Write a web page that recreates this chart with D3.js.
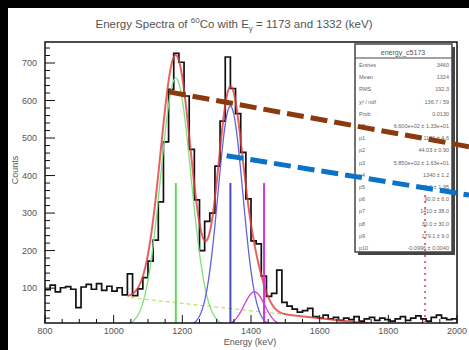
<!DOCTYPE html>
<html>
<head>
<script src="https://d3js.org/d3.v7.min.js"></script>
<style>
  body, html { margin: 0; background: #000; }
  svg { display: block; }
  text { font-family: 'Liberation Sans', Arial, sans-serif; }
</style>
</head>
<body>
<svg id="chart" width="469" height="350"></svg>
<script>
// histogram: 15 keV bins from 800 keV
var binStart = 800, binWidth = 15;
var counts = [96, 108, 90, 101, 104, 97, 48, 103, 110, 97, 112, 94, 105,
  92, 101, 82, 138, 80, 98, 128,
  172, 228, 330, 490, 630, 726, 702, 612, 470, 335,
  200, 278, 300, 425, 545, 716, 632, 565, 462, 338,
  226, 218, 132, 78, 86, 148, 62, 52, 44, 36,
  40, 46, 24, 20, 28, 18, 22, 14, 20, 16,
  24, 12, 18, 22, 14, 20, 16, 12, 18, 24,
  14, 20, 26, 18, 12, 22, 28, 20, 16, 18];
var xTicks = [800, 1000, 1200, 1400, 1600, 1800, 2000];
var yTicks = [100, 200, 300, 400, 500, 600, 700];

// fit components: amplitude, mean, sigma
var gaus1 = [660, 1181, 44];
var gaus2 = [585, 1340, 36];
var gaus3 = [90, 1410, 30];
var bgPol = [179, -0.0996];

var markers = [
  { e: 1181, top: 380, color: "#5fd85f" },
  { e: 1340, top: 380, color: "#4a4ac8" },
  { e: 1438, top: 380, color: "#d633d6" }
];
var redMarker = { e: 1907, top: 355 };

var brownDash = [[1161, 623], [2035, 477]];
var blueDash = [[1329, 453], [2035, 348]];

var statsTitle = "energy_c5173";
var statsRows = [
  ["Entries", "3460"], ["Mean", "1324"], ["RMS", "192.3"],
  ["\u03c7\u00b2 / ndf", "136.7 / 59"], ["Prob", "0.0130"],
  ["p0", "6.600e+02 \u00b1 1.33e+01"], ["p1", "1181 \u00b1 4.6"],
  ["p2", "44.03 \u00b1 0.90"], ["p3", "5.850e+02 \u00b1 1.63e+01"],
  ["p4", "1340 \u00b1 1.2"], ["p5", "36.0 \u00b1 1.95"],
  ["p6", "90.0 \u00b1 6.0"], ["p7", "1410 \u00b1 38.0"],
  ["p8", "30.0 \u00b1 30.0"], ["p9", "179.1 \u00b1 9.0"],
  ["p10", "-0.0996 \u00b1 0.0040"]
];

var svg = d3.select("#chart");
svg.append("rect").attr("x", 8).attr("y", 8).attr("width", 461).attr("height", 342).attr("fill", "#fff");

var L = 45, R = 457, T = 42, B = 323;
var x = d3.scaleLinear().domain([800, 2000]).range([L, R]);
var y = d3.scaleLinear().domain([7, 756]).range([B, T]);

svg.append("clipPath").attr("id", "clip")
  .append("rect").attr("x", L).attr("y", T).attr("width", R - L).attr("height", B - T);
var plot = svg.append("g").attr("clip-path", "url(#clip)");

function gaus(p, e) { return p[0] * Math.exp(-Math.pow(e - p[1], 2) / (2 * p[2] * p[2])); }
function bg(e) { return bgPol[0] + bgPol[1] * e; }
function total(e) { return gaus(gaus1, e) + gaus(gaus2, e) + gaus(gaus3, e) + bg(e); }

var curve = d3.line().x(d => x(d[0])).y(d => y(d[1]));
function sample(f, lo, hi) { return d3.range(lo, hi + 0.1, 2).map(e => [e, f(e)]); }

// histogram
var steps = counts.map((c, i) => [binStart + i * binWidth, c]);
steps.push([binStart + counts.length * binWidth, counts[counts.length - 1]]);
plot.append("path")
  .attr("d", d3.line().x(d => x(d[0])).y(d => y(d[1])).curve(d3.curveStepAfter)(steps))
  .attr("fill", "none").attr("stroke", "#111").attr("stroke-width", 1.7);

// background line
plot.append("path").attr("d", curve(sample(bg, 1050, 1500)))
  .attr("fill", "none").attr("stroke", "#b8e06a").attr("stroke-width", 1.2).attr("stroke-dasharray", "4,3");

// components
plot.append("path").attr("d", curve(sample(e => gaus(gaus1, e), 1030, 1340)))
  .attr("fill", "none").attr("stroke", "#7ee07e").attr("stroke-width", 1.3);
plot.append("path").attr("d", curve(sample(e => gaus(gaus2, e), 1200, 1490)))
  .attr("fill", "none").attr("stroke", "#6262e0").attr("stroke-width", 1.3);
plot.append("path").attr("d", curve(sample(e => gaus(gaus3, e), 1330, 1520)))
  .attr("fill", "none").attr("stroke", "#d63ad6").attr("stroke-width", 1.3);

// total fit
plot.append("path").attr("d", curve(sample(total, 1040, 1750)))
  .attr("fill", "none").attr("stroke", "#e03a3a").attr("stroke-width", 2).attr("stroke-opacity", 0.8);

// peak markers
plot.selectAll(".mk").data(markers).enter().append("line")
  .attr("x1", d => x(d.e)).attr("x2", d => x(d.e))
  .attr("y1", y(7)).attr("y2", d => y(d.top))
  .attr("stroke", d => d.color).attr("stroke-width", 2);

// frame
svg.append("rect").attr("x", L).attr("y", T).attr("width", R - L).attr("height", B - T)
  .attr("fill", "none").attr("stroke", "#111").attr("stroke-width", 1.5);

// axes (ticks inside)
var xAxis = svg.append("g");
xAxis.selectAll(".minor").data(d3.range(850, 2000, 50).filter(v => v % 200 !== 0)).enter()
  .append("line").attr("x1", d => x(d)).attr("x2", d => x(d)).attr("y1", B).attr("y2", B - 4)
  .attr("stroke", "#111");
xAxis.selectAll(".major").data(xTicks).enter()
  .append("line").attr("x1", d => x(d)).attr("x2", d => x(d)).attr("y1", B).attr("y2", B - 8)
  .attr("stroke", "#111");
xAxis.selectAll("text").data(xTicks).enter().append("text")
  .attr("x", d => x(d)).attr("y", B + 11).attr("text-anchor", "middle")
  .attr("font-size", 9).attr("fill", "#555").text(d => d);

var yAxis = svg.append("g");
yAxis.selectAll(".minor").data(d3.range(20, 756, 20).filter(v => v % 100 !== 0)).enter()
  .append("line").attr("x1", L).attr("x2", L + 5).attr("y1", d => y(d)).attr("y2", d => y(d))
  .attr("stroke", "#111");
yAxis.selectAll(".major").data(yTicks).enter()
  .append("line").attr("x1", L).attr("x2", L + 10).attr("y1", d => y(d)).attr("y2", d => y(d))
  .attr("stroke", "#111");
yAxis.selectAll("text").data(yTicks).enter().append("text")
  .attr("x", L - 8).attr("y", d => y(d) + 3).attr("text-anchor", "end")
  .attr("font-size", 9).attr("fill", "#555").text(d => d);

// titles
var title = svg.append("text").attr("x", 234).attr("y", 28).attr("text-anchor", "middle")
  .attr("font-size", 11.5).attr("fill", "#555");
title.append("tspan").text("Energy Spectra of ");
title.append("tspan").attr("font-size", 8).attr("dy", -5).text("60");
title.append("tspan").attr("dy", 5).text("Co with E");
title.append("tspan").attr("font-size", 8).attr("dy", 3).text("\u03b3");
title.append("tspan").attr("dy", -3).text(" = 1173 and 1332 (keV)");

svg.append("text").attr("x", 250).attr("y", 345).attr("text-anchor", "middle")
  .attr("font-size", 9).attr("fill", "#555").text("Energy (keV)");
svg.append("text").attr("transform", "translate(18,170) rotate(-90)").attr("text-anchor", "middle")
  .attr("font-size", 9).attr("fill", "#555").text("Counts");

// stats box
var sb = svg.append("g");
sb.append("rect").attr("x", 358).attr("y", 47).attr("width", 97).attr("height", 208).attr("fill", "#444");
sb.append("rect").attr("x", 355).attr("y", 44).attr("width", 97).attr("height", 208)
  .attr("fill", "#fff").attr("stroke", "#444").attr("stroke-width", 1.5);
sb.append("text").attr("x", 403).attr("y", 55).attr("text-anchor", "middle")
  .attr("font-size", 7).attr("fill", "#555").text(statsTitle);
sb.append("line").attr("x1", 355).attr("x2", 452).attr("y1", 58).attr("y2", 58).attr("stroke", "#444");
var rows = sb.selectAll(".row").data(statsRows).enter().append("g");
rows.append("text").attr("x", 359).attr("y", (d, i) => 67 + i * 12.2)
  .attr("font-size", 5.5).attr("fill", "#666").text(d => d[0]);
rows.append("text").attr("x", 449).attr("y", (d, i) => 67 + i * 12.2).attr("text-anchor", "end")
  .attr("font-size", 5.5).attr("fill", "#666").text(d => d[1]);

// red dotted marker drawn over the stats box
svg.append("line")
  .attr("x1", x(redMarker.e)).attr("x2", x(redMarker.e))
  .attr("y1", y(7)).attr("y2", y(redMarker.top))
  .attr("stroke", "#e06a7a").attr("stroke-width", 2).attr("stroke-dasharray", "2,4");

// annotation dashes
svg.append("line")
  .attr("x1", x(brownDash[0][0])).attr("y1", y(brownDash[0][1]))
  .attr("x2", x(brownDash[1][0])).attr("y2", y(brownDash[1][1]))
  .attr("stroke", "#8a3a0c").attr("stroke-width", 5).attr("stroke-dasharray", "17,7");
svg.append("line")
  .attr("x1", x(blueDash[0][0])).attr("y1", y(blueDash[0][1]))
  .attr("x2", x(blueDash[1][0])).attr("y2", y(blueDash[1][1]))
  .attr("stroke", "#0a72c8").attr("stroke-width", 5).attr("stroke-dasharray", "17,7");
</script>
</body>
</html>
